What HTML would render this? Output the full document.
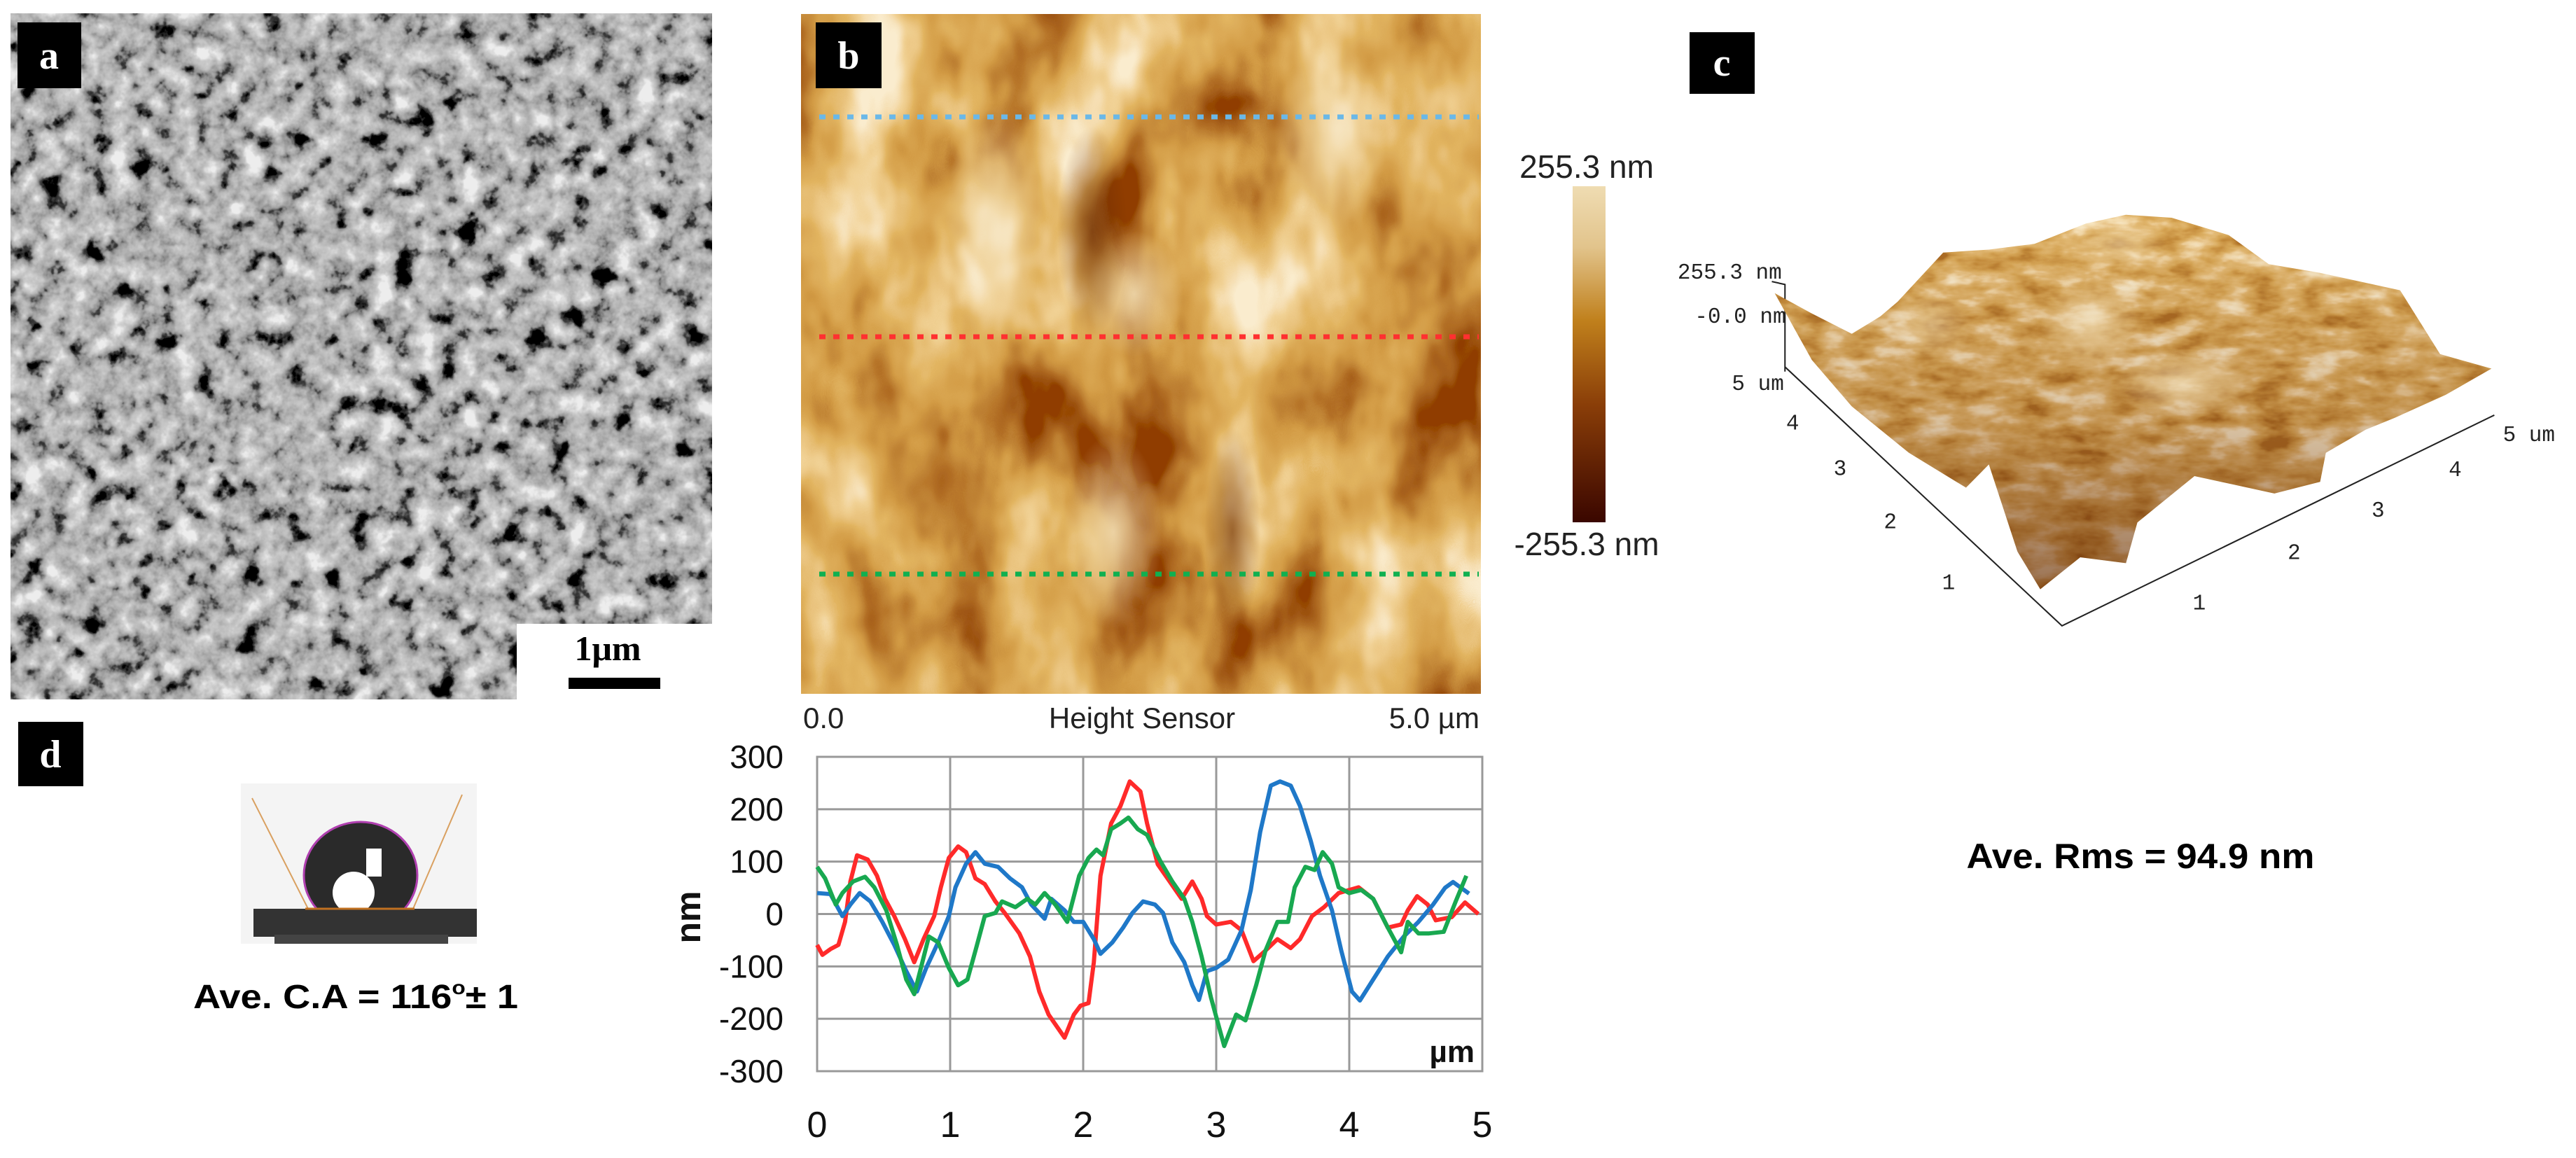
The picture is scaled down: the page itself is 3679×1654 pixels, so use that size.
<!DOCTYPE html>
<html><head><meta charset="utf-8"><style>
html,body{margin:0;padding:0;background:#fff;}
svg{display:block;}
</style></head><body>
<svg id="fig" width="3679" height="1654" viewBox="0 0 3679 1654" xmlns="http://www.w3.org/2000/svg" font-family="'Liberation Sans', sans-serif">
<defs>
  <filter id="sem" x="0" y="0" width="100%" height="100%">
    <feTurbulence type="fractalNoise" baseFrequency="0.032" numOctaves="4" seed="7"/>
    <feColorMatrix type="matrix" values="0.33 0.33 0.33 0 0  0.33 0.33 0.33 0 0  0.33 0.33 0.33 0 0  0 0 0 0 1"/>
    <feComponentTransfer>
      <feFuncR type="linear" slope="3.2" intercept="-1.1"/>
      <feFuncG type="linear" slope="3.2" intercept="-1.1"/>
      <feFuncB type="linear" slope="3.2" intercept="-1.1"/>
    </feComponentTransfer>
    <feComponentTransfer>
      <feFuncR type="table" tableValues="0 0.05 0.28 0.4 0.5 0.58 0.7 0.85"/>
      <feFuncG type="table" tableValues="0 0.05 0.28 0.4 0.5 0.58 0.7 0.85"/>
      <feFuncB type="table" tableValues="0 0.05 0.28 0.4 0.5 0.58 0.7 0.85"/>
    </feComponentTransfer>
  </filter>
  <filter id="afm" x="0" y="0" width="100%" height="100%">
    <feTurbulence type="fractalNoise" baseFrequency="0.007 0.004" numOctaves="4" seed="3"/>
    <feColorMatrix type="matrix" values="0.33 0.33 0.33 0 0  0.33 0.33 0.33 0 0  0.33 0.33 0.33 0 0  0 0 0 0 1"/>
    <feComponentTransfer>
      <feFuncR type="linear" slope="3" intercept="-1"/>
      <feFuncG type="linear" slope="3" intercept="-1"/>
      <feFuncB type="linear" slope="3" intercept="-1"/>
    </feComponentTransfer>
    <feComponentTransfer>
      <feFuncR type="table" tableValues="0.28 0.45 0.65 0.76 0.88 0.96"/>
      <feFuncG type="table" tableValues="0.05 0.16 0.33 0.46 0.64 0.84"/>
      <feFuncB type="table" tableValues="0 0.02 0.06 0.12 0.3 0.62"/>
    </feComponentTransfer>
  </filter>
  <filter id="afm3" x="0" y="0" width="100%" height="100%">
    <feTurbulence type="fractalNoise" baseFrequency="0.012 0.03" numOctaves="4" seed="5"/>
    <feColorMatrix type="matrix" values="0.33 0.33 0.33 0 0  0.33 0.33 0.33 0 0  0.33 0.33 0.33 0 0  0 0 0 0 1"/>
    <feComponentTransfer>
      <feFuncR type="linear" slope="3" intercept="-1"/>
      <feFuncG type="linear" slope="3" intercept="-1"/>
      <feFuncB type="linear" slope="3" intercept="-1"/>
    </feComponentTransfer>
    <feComponentTransfer>
      <feFuncR type="table" tableValues="0.42 0.58 0.7 0.78 0.9 0.96"/>
      <feFuncG type="table" tableValues="0.16 0.28 0.4 0.5 0.7 0.85"/>
      <feFuncB type="table" tableValues="0.02 0.05 0.1 0.18 0.4 0.62"/>
    </feComponentTransfer>
    <feComposite in2="SourceGraphic" operator="in"/>
  </filter>
  <linearGradient id="cbar" x1="0" y1="0" x2="0" y2="1">
    <stop offset="0" stop-color="#efdcb2"/>
    <stop offset="0.18" stop-color="#e2c48c"/>
    <stop offset="0.4" stop-color="#c0801c"/>
    <stop offset="0.65" stop-color="#8a3e08"/>
    <stop offset="1" stop-color="#3a0600"/>
  </linearGradient>
  <linearGradient id="shade" x1="0" y1="0" x2="0" y2="1">
    <stop offset="0" stop-color="#5a2000" stop-opacity="0"/>
    <stop offset="0.55" stop-color="#5a2000" stop-opacity="0.2"/>
    <stop offset="1" stop-color="#5a2000" stop-opacity="0.6"/>
  </linearGradient>
  <radialGradient id="hl"><stop offset="0" stop-color="#f4e2bc"/><stop offset="1" stop-color="#f4e2bc" stop-opacity="0"/></radialGradient>
  <radialGradient id="dk"><stop offset="0" stop-color="#6a2a04"/><stop offset="1" stop-color="#6a2a04" stop-opacity="0"/></radialGradient>
  <clipPath id="clipB"><rect x="1144" y="20" width="971" height="971"/></clipPath>
</defs>

<!-- Panel a: SEM -->
<g>
  <rect x="15" y="19" width="1002" height="980" fill="#888" filter="url(#sem)"/>
  <rect x="738" y="891" width="280" height="109" fill="#fff"/>
  <text x="868" y="943" font-family="'Liberation Serif', serif" font-weight="bold" font-size="50" text-anchor="middle">1μm</text>
  <rect x="812" y="968" width="131" height="16" fill="#000"/>
  <rect x="25" y="32" width="91" height="94" fill="#000"/>
  <text x="70" y="98" fill="#fff" font-family="'Liberation Serif', serif" font-weight="bold" font-size="56" text-anchor="middle">a</text>
</g>

<!-- Panel b: AFM height -->
<g>
  <g clip-path="url(#clipB)">
    <rect x="1144" y="20" width="971" height="971" fill="#c0801e" filter="url(#afm)"/>
    <ellipse cx="1420" cy="320" rx="70" ry="170" fill="url(#hl)" opacity="0.7"/>
    <ellipse cx="1620" cy="420" rx="70" ry="90" fill="url(#hl)" opacity="0.8"/>
    <ellipse cx="1900" cy="200" rx="80" ry="140" fill="url(#hl)" opacity="0.6"/>
    <ellipse cx="1590" cy="760" rx="70" ry="140" fill="url(#hl)" opacity="0.8"/>
    <ellipse cx="1560" cy="330" rx="50" ry="150" fill="url(#dk)" opacity="0.7"/>
    <ellipse cx="1760" cy="760" rx="40" ry="150" fill="url(#dk)" opacity="0.6"/>
  </g>
  <line x1="1170" y1="167" x2="2112" y2="167" stroke="#6ab8e8" stroke-width="7" stroke-dasharray="9 11"/>
  <line x1="1170" y1="481" x2="2112" y2="481" stroke="#ff3030" stroke-width="7" stroke-dasharray="9 11"/>
  <line x1="1170" y1="820" x2="2112" y2="820" stroke="#10b050" stroke-width="7" stroke-dasharray="9 11"/>
  <rect x="1165" y="32" width="94" height="94" fill="#000"/>
  <text x="1212" y="98" fill="#fff" font-family="'Liberation Serif', serif" font-weight="bold" font-size="56" text-anchor="middle">b</text>
  <text x="1147" y="1040" font-size="42" fill="#222">0.0</text>
  <text x="1631" y="1040" font-size="42" fill="#222" text-anchor="middle">Height Sensor</text>
  <text x="2113" y="1040" font-size="42" fill="#222" text-anchor="end">5.0 µm</text>
  <rect x="2246" y="266" width="47" height="480" fill="url(#cbar)"/>
  <text x="2266" y="254" font-size="46" fill="#222" text-anchor="middle">255.3 nm</text>
  <text x="2266" y="793" font-size="46" fill="#222" text-anchor="middle">-255.3 nm</text>
</g>

<!-- Panel c: 3D -->
<g>
  <rect x="2413" y="46" width="93" height="88" fill="#000"/>
  <text x="2459" y="108" fill="#fff" font-family="'Liberation Serif', serif" font-weight="bold" font-size="56" text-anchor="middle">c</text>
  <g transform="translate(2400,0) scale(0.8157,0.8292)">
    <polyline points="183,640 183,490 160,485" fill="none" stroke="#222" stroke-width="2.5"/>
    <polygon fill="#c08030" filter="url(#afm3)" points="165,505 230,540 300,575 350,545 380,520 460,435 540,430 620,420 710,385 780,370 860,375 960,405 1030,455 1120,470 1260,500 1330,610 1420,635 1340,680 1250,720 1200,740 1130,780 1120,830 1040,850 900,820 800,900 780,970 700,960 630,1015 590,950 540,800 500,840 400,780 300,700 230,620"/>
    <polygon fill="url(#shade)" points="165,505 230,540 300,575 350,545 380,520 460,435 540,430 620,420 710,385 780,370 860,375 960,405 1030,455 1120,470 1260,500 1330,610 1420,635 1340,680 1250,720 1200,740 1130,780 1120,830 1040,850 900,820 800,900 780,970 700,960 630,1015 590,950 540,800 500,840 400,780 300,700 230,620"/>
    <ellipse cx="720" cy="560" rx="90" ry="80" fill="url(#hl)" opacity="0.6"/>
    <ellipse cx="880" cy="660" rx="120" ry="60" fill="url(#hl)" opacity="0.7"/>
    <ellipse cx="440" cy="560" rx="70" ry="60" fill="url(#hl)" opacity="0.5"/>
    <ellipse cx="770" cy="420" rx="80" ry="40" fill="url(#hl)" opacity="0.5"/>
    <polyline points="183,632 668,1078 1425,715" fill="none" stroke="#222" stroke-width="2.5"/>
    <g font-family="'Liberation Mono', monospace" font-size="38" fill="#222">
      <text x="-5" y="480">255.3 nm</text>
      <text x="25" y="556">-0.0 nm</text>
      <text x="90" y="672">5 um</text>
      <text x="185" y="740">4</text><text x="268" y="818">3</text><text x="356" y="910">2</text><text x="458" y="1015">1</text>
      <text x="897" y="1050">1</text><text x="1063" y="963">2</text><text x="1210" y="890">3</text><text x="1345" y="820">4</text>
      <text x="1440" y="760">5 um</text>
    </g>
  </g>
  <text x="3057" y="1240" font-size="50" font-weight="bold" text-anchor="middle" textLength="497" lengthAdjust="spacingAndGlyphs">Ave. Rms = 94.9 nm</text>
</g>

<!-- Panel d: contact angle -->
<g>
  <rect x="26" y="1031" width="93" height="92" fill="#000"/>
  <text x="72" y="1096" fill="#fff" font-family="'Liberation Serif', serif" font-weight="bold" font-size="56" text-anchor="middle">d</text>
  <g>
    <rect x="344" y="1119" width="337" height="229" fill="#f4f4f4"/>
    <ellipse cx="515" cy="1250" rx="81" ry="76" fill="#2a2a2a" stroke="#b040b0" stroke-width="3"/>
    <ellipse cx="505" cy="1275" rx="30" ry="30" fill="#fff"/>
    <rect x="523" y="1212" width="22" height="40" fill="#fff"/>
    <rect x="362" y="1298" width="319" height="40" fill="#333"/>
    <rect x="392" y="1335" width="248" height="13" fill="#444"/>
    <line x1="360" y1="1140" x2="440" y2="1298" stroke="#d9a060" stroke-width="2"/>
    <line x1="660" y1="1135" x2="590" y2="1298" stroke="#d9a060" stroke-width="2"/>
    <line x1="436" y1="1298" x2="592" y2="1298" stroke="#c07020" stroke-width="3"/>
  </g>
  <text x="508" y="1440" font-size="48" font-weight="bold" text-anchor="middle" textLength="464" lengthAdjust="spacingAndGlyphs">Ave. C.A = 116<tspan dy="-20" font-size="28">o</tspan><tspan dy="20">± 1</tspan></text>
</g>

<!-- Profile chart -->
<g id="chart"></g>
</svg>
<script>
const xTicks = [0, 1, 2, 3, 4, 5];
const yTicks = [300, 200, 100, 0, -100, -200, -300];
const redX = [0,0.04,0.1,0.16,0.21,0.25,0.3,0.38,0.45,0.51,0.58,0.66,0.73,0.8,0.88,0.93,0.99,1.06,1.12,1.19,1.26,1.34,1.41,1.52,1.6,1.67,1.74,1.86,1.93,1.98,2.04,2.08,2.13,2.21,2.28,2.35,2.43,2.48,2.56,2.65,2.74,2.82,2.89,2.93,3.0,3.11,3.19,3.28,3.37,3.46,3.56,3.63,3.72,3.81,3.92,4.07,4.18,4.29,4.39,4.44,4.51,4.59,4.65,4.77,4.87,4.97];
const redY = [-59,-78,-67,-59,-15,62,112,104,73,29,-4,-48,-92,-48,-4,51,107,129,118,68,57,24,2,-37,-81,-148,-192,-236,-192,-175,-170,-92,73,173,206,253,234,173,95,62,29,62,29,-4,-20,-15,-31,-90,-70,-48,-65,-48,-4,13,40,51,29,-26,-20,7,34,18,-12,-6,22,0];
const blueX = [0,0.1,0.19,0.25,0.32,0.4,0.49,0.58,0.67,0.75,0.82,0.91,0.99,1.04,1.12,1.19,1.26,1.36,1.45,1.54,1.61,1.71,1.76,1.86,1.93,2.0,2.08,2.13,2.22,2.3,2.37,2.45,2.54,2.6,2.67,2.76,2.82,2.87,2.93,3.0,3.09,3.19,3.26,3.33,3.41,3.48,3.56,3.63,3.71,3.78,3.87,3.94,4.02,4.08,4.18,4.29,4.41,4.52,4.63,4.72,4.78,4.9];
const blueY = [40,38,-4,18,40,24,-15,-59,-109,-148,-103,-54,-4,51,96,118,96,90,68,51,18,-9,29,7,-15,-15,-48,-76,-54,-26,2,24,18,2,-54,-92,-136,-164,-109,-103,-87,-31,46,156,245,253,245,206,140,73,7,-70,-148,-165,-125,-81,-43,-15,18,50,61,39];
const greenX = [0,0.06,0.14,0.19,0.27,0.36,0.43,0.52,0.6,0.67,0.73,0.78,0.84,0.91,0.99,1.06,1.13,1.19,1.26,1.34,1.39,1.49,1.58,1.64,1.71,1.79,1.88,1.97,2.04,2.1,2.15,2.21,2.28,2.34,2.41,2.48,2.58,2.67,2.76,2.82,2.89,2.96,3.06,3.15,3.22,3.3,3.37,3.46,3.54,3.59,3.67,3.74,3.8,3.87,3.92,4.0,4.09,4.18,4.29,4.39,4.44,4.52,4.6,4.71,4.8,4.88];
const greenY = [90,68,18,40,62,71,51,7,-59,-125,-153,-103,-43,-54,-103,-136,-125,-70,-4,2,24,13,29,18,40,18,-15,73,107,123,112,162,173,184,162,151,101,62,29,-15,-81,-159,-252,-192,-203,-136,-70,-15,-15,51,90,84,118,96,51,40,46,29,-26,-73,-15,-37,-37,-34,24,73];

const NS = 'http://www.w3.org/2000/svg';
const chart = document.getElementById('chart');
const X0 = 1167, X1 = 2117, Y0 = 1530, Y1 = 1081;
const xScale = v => X0 + (v - 0) / 5 * (X1 - X0);
const yScale = v => Y0 - (v + 300) / 600 * (Y0 - Y1);
function mk(tag, attrs) {
  const e = document.createElementNS(NS, tag);
  for (const k in attrs) e.setAttribute(k, attrs[k]);
  chart.appendChild(e);
  return e;
}
const bg = mk('rect', {x: X0, y: Y1, width: X1 - X0, height: Y0 - Y1, fill: '#fff', stroke: '#999', 'stroke-width': 3});


yTicks.forEach(t => {
  const g = mk('line', {x1: X0, x2: X1, y1: yScale(t), y2: yScale(t), stroke: '#999', 'stroke-width': 3});
  
  
  const l = mk('text', {x: 1119, y: yScale(t), 'font-size': 46, 'text-anchor': 'end', 'dominant-baseline': 'central', fill: '#111'});
  l.textContent = String(t);
  
  
});
xTicks.forEach(t => {
  const g = mk('line', {x1: xScale(t), x2: xScale(t), y1: Y1, y2: Y0, stroke: '#999', 'stroke-width': 3});
  
  
  const l = mk('text', {x: xScale(t), y: 1607, 'font-size': 52, 'text-anchor': 'middle', 'dominant-baseline': 'central', fill: '#111'});
  l.textContent = String(t);
  
  
});
function series(xs, ys, color, name) {
  const p = mk('polyline', {points: xs.map((x, i) => xScale(x) + ',' + yScale(ys[i])).join(' '), fill: 'none', stroke: color, 'stroke-width': 6, 'stroke-linejoin': 'round'});
  
  
}
series(redX, redY, '#ff2a2a', 'series-red');
series(blueX, blueY, '#1f78c8', 'series-blue');
series(greenX, greenY, '#18a850', 'series-green');
const yt = mk('text', {x: 0, y: 0, 'font-size': 50, 'font-weight': 'bold', 'text-anchor': 'middle', transform: 'translate(1000,1310) rotate(-90)', fill: '#111'});
yt.textContent = 'nm';


const xt = mk('text', {x: 2106, y: 1517, 'font-size': 44, 'font-weight': 'bold', 'text-anchor': 'end', fill: '#111'});
xt.textContent = 'µm';


</script>
</body></html>
